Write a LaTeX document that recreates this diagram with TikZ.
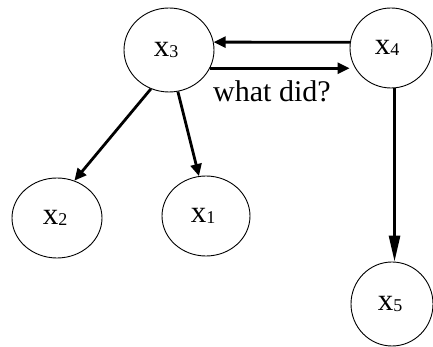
\documentclass[tikz,border=0pt]{standalone}
\usepackage{fontspec}
\setmainfont{Liberation Serif}
\usetikzlibrary{shapes.geometric,arrows.meta}
\begin{document}
\begin{tikzpicture}[x=1pt,y=1pt,
  var/.style={draw,ellipse,line width=0.9pt,inner sep=0pt,minimum width=#1},
  var/.default=88pt,
  arr/.style={line width=2.8pt,-{Triangle[length=12pt,width=11pt]}},
  longarr/.style={line width=2.8pt,-{Triangle[length=26pt,width=11pt]}},
  lab/.style={font=\fontsize{31}{31}\selectfont},
]
\useasboundingbox (0,0) rectangle (433,347);
\newcommand{\vlab}[1]{x\raisebox{-1.5pt}{\fontsize{18}{18}\selectfont #1}}
\node[var=90pt,minimum height=84pt,lab] (x3) at (169,297) {\hspace*{-6pt}\vlab{3}};
\node[var=82pt,minimum height=80pt,lab] (x4) at (391,299) {\hspace*{-8pt}\vlab{4}};
\node[var=90pt,minimum height=80pt,lab] (x2) at (57,129) {\hspace*{-4pt}\vlab{2}};
\node[var=88pt,minimum height=80pt,lab] (x1) at (206,131) {\hspace*{-6pt}\vlab{1}};
\node[var=82pt,minimum height=84pt,lab] (x5) at (392,43) {\hspace*{-4pt}\vlab{5}};
\draw[arr] (x4.172) -- (x3.10);
\draw[arr] (x3.-24) -- (x4.west |- x3.-24);
\node[font=\fontsize{30}{30}\selectfont,anchor=west,inner sep=0pt] (q) at (213,256) {what did?};
\draw[arr] (x3.-115) -- (x2.65);
\draw[arr] (x3.-78) -- (x1.100);
\draw[longarr] (x4.-85) -- (x5.north -| x4.-85);
\end{tikzpicture}
\end{document}
